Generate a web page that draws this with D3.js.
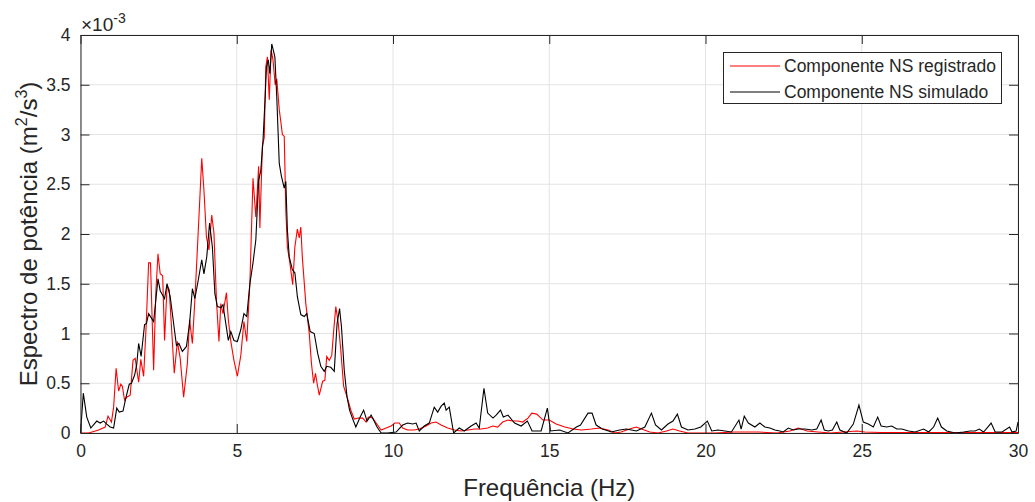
<!DOCTYPE html>
<html>
<head>
<meta charset="utf-8">
<script src="https://cdn.jsdelivr.net/npm/d3@7"></script>
<style>
  body { margin: 0; background: #fff; }
  text { font-family: "Liberation Sans", Arial, sans-serif; fill: #262626; }
</style>
</head>
<body>
<svg width="1035" height="502"></svg>
<script>
// power spectrum, values in units of 1e-3 m^2/s^3
var freqReg = [0,0.26,0.58,0.79,0.88,0.99,1.06,1.14,1.22,1.29,1.34,1.41,1.48,1.59,1.68,1.75,1.86,1.93,2.02,2.10,2.18,2.24,2.34,2.41,2.48,2.55,2.63,2.69,2.77,2.84,3.00,3.10,3.19,3.30,3.42,3.49,3.58,3.66,3.77,3.88,3.95,4.03,4.11,4.20,4.27,4.35,4.43,4.49,4.56,4.67,4.73,4.81,4.91,5.02,5.13,5.23,5.32,5.42,5.52,5.61,5.70,5.74,5.82,5.88,5.93,5.98,6.04,6.10,6.16,6.23,6.28,6.36,6.41,6.46,6.52,6.57,6.62,6.70,6.79,6.86,6.94,7.00,7.05,7.10,7.21,7.32,7.39,7.46,7.52,7.57,7.64,7.75,7.82,7.88,7.96,8.04,8.10,8.17,8.25,8.33,8.42,8.49,8.57,8.65,8.76,8.89,9.03,9.14,9.21,9.35,9.46,9.62,9.78,9.94,10.06,10.2,10.31,10.47,10.68,10.84,11.06,11.22,11.38,11.54,11.75,11.97,12.18,12.4,12.6,12.82,13.03,13.19,13.35,13.51,13.68,13.84,14.0,14.15,14.32,14.44,14.6,14.8,15.0,15.22,15.5,15.76,16.03,16.35,16.6,16.88,17.1,17.3,17.57,17.79,17.95,18.22,18.48,18.75,18.96,19.17,19.44,19.87,20.3,20.94,21.69,22.3,22.7,22.97,23.25,23.6,24.0,24.4,24.85,25.1,25.6,26.5,27.5,28.5,29.5,30];
var specReg = [0,0,0.03,0.06,0.17,0.11,0.26,0.65,0.42,0.49,0.47,0.33,0.36,0.38,0.73,0.75,0.51,0.74,0.57,1.07,1.71,1.71,0.63,1.41,1.80,1.60,1.58,0.93,1.48,1.44,0.60,0.92,0.75,0.36,0.70,1.14,0.90,1.34,2.04,2.76,2.44,1.97,1.84,2.19,2.01,1.34,0.92,1.30,1.20,1.41,1.14,0.92,0.73,0.57,0.78,1.12,0.92,1.50,2.56,2.17,2.68,2.06,2.88,2.97,3.68,3.78,3.35,3.85,3.75,3.50,3.56,3.25,3.13,3.00,2.98,2.24,1.87,1.71,1.49,1.87,2.05,1.96,2.07,1.76,1.30,1.00,0.70,0.50,0.60,0.50,0.38,0.52,0.53,0.77,0.73,0.78,1.02,1.27,1.10,0.83,0.47,0.40,0.32,0.23,0.14,0.15,0.15,0.11,0.16,0.15,0.10,0.03,0.05,0.07,0.10,0.10,0.05,0.03,0.03,0.04,0.07,0.10,0.11,0.08,0.05,0.03,0.02,0.03,0.04,0.04,0.05,0.07,0.06,0.11,0.13,0.12,0.12,0.11,0.15,0.20,0.19,0.13,0.13,0.09,0.06,0.04,0.03,0.04,0.05,0.03,0.0,0.01,0.04,0.06,0.04,0.01,0.0,0.02,0.04,0.02,0.0,0.0,0.0,0.01,0.01,0.0,0.02,0.05,0.02,0.01,0.0,0.01,0.02,0.01,0.005,0.005,0.005,0.005,0.005,0.005];

var freqSim = [0,0.09,0.2,0.33,0.52,0.63,0.74,0.84,0.95,1.06,1.16,1.24,1.36,1.45,1.56,1.63,1.73,1.80,1.86,1.94,2.05,2.11,2.18,2.24,2.34,2.48,2.55,2.69,2.77,2.87,2.98,3.07,3.15,3.26,3.39,3.49,3.58,3.66,3.77,3.88,3.95,4.04,4.13,4.22,4.30,4.38,4.49,4.56,4.65,4.73,4.81,4.91,5.02,5.13,5.23,5.32,5.42,5.52,5.61,5.70,5.77,5.84,5.91,5.95,6.01,6.06,6.12,6.22,6.28,6.36,6.43,6.52,6.57,6.62,6.68,6.78,6.86,6.94,7.05,7.16,7.24,7.35,7.48,7.59,7.69,7.80,7.88,8.01,8.12,8.21,8.29,8.35,8.44,8.53,8.61,8.70,8.81,8.95,9.06,9.17,9.30,9.49,9.62,9.83,10.1,10.31,10.47,10.63,10.74,10.84,11.0,11.16,11.32,11.43,11.54,11.64,11.7,11.8,11.94,12.12,12.28,12.5,12.66,12.76,12.91,13.03,13.2,13.3,13.44,13.53,13.68,13.89,14.1,14.3,14.45,14.74,14.94,15.04,15.33,15.6,15.87,16.0,16.24,16.37,16.5,16.7,16.99,17.25,17.47,17.63,17.79,18.06,18.27,18.4,18.59,18.8,18.96,19.1,19.23,19.44,19.66,19.85,20.06,20.2,20.4,20.62,20.83,21.07,21.14,21.24,21.37,21.58,21.74,21.9,22.06,22.22,22.38,22.49,22.65,22.81,22.97,23.18,23.4,23.56,23.7,23.8,23.93,24.06,24.2,24.3,24.52,24.73,24.91,25.05,25.21,25.37,25.51,25.62,25.8,25.96,26.12,26.28,26.5,26.71,26.98,27.14,27.3,27.43,27.55,27.72,27.99,28.26,28.47,28.63,28.76,28.9,29.14,29.27,29.49,29.73,29.81,29.94,30];
var specSim = [0,0.40,0.16,0.05,0.12,0.10,0.12,0.09,0.06,0.05,0.25,0.21,0.22,0.35,0.49,0.50,0.58,0.69,0.90,0.77,1.09,1.10,1.20,1.17,1.12,1.55,1.43,1.35,1.50,1.37,1.10,0.88,0.90,0.82,0.87,1.10,1.45,1.35,1.54,1.74,1.60,1.77,2.11,1.87,1.40,1.27,1.26,1.29,1.10,0.93,1.02,0.93,0.92,1.04,1.20,1.17,1.50,1.71,1.94,2.54,2.64,2.94,3.38,3.68,3.75,3.61,3.91,3.78,3.38,2.71,2.58,2.46,2.53,2.04,1.77,1.64,1.61,1.37,1.19,1.17,1.20,1.02,1.00,0.80,0.67,0.62,0.67,0.66,0.62,1.10,1.25,1.07,0.63,0.36,0.23,0.15,0.06,0.16,0.23,0.12,0.18,0.06,0.0,0.0,0.01,0.08,0.10,0.09,0.10,0.02,0.07,0.10,0.26,0.21,0.27,0.30,0.23,0.26,0.0,0.05,0.02,0.07,0.10,0.05,0.45,0.20,0.15,0.18,0.23,0.16,0.18,0.10,0.07,0.12,0.02,0.02,0.25,0.02,0.03,0.0,0.06,0.08,0.20,0.20,0.08,0.04,0.01,0.03,0.04,0.03,0.02,0.06,0.20,0.08,0.03,0.09,0.12,0.19,0.06,0.03,0.04,0.06,0.12,0.02,0.03,0.02,0.01,0.13,0.04,0.17,0.10,0.06,0.10,0.06,0.05,0.03,0.02,0.01,0.05,0.03,0.04,0.04,0.03,0.04,0.13,0.03,0.02,0.03,0.11,0.03,0.0,0.09,0.28,0.11,0.09,0.06,0.16,0.07,0.06,0.07,0.04,0.04,0.02,0.01,0.04,0.01,0.06,0.15,0.06,0.02,0.0,0.01,0.02,0.02,0.04,0.01,0.10,0.01,0.01,0.06,0.01,0.02,0.11];

var xTicks = [0, 5, 10, 15, 20, 25, 30];
var yTicks = [0, 0.5, 1, 1.5, 2, 2.5, 3, 3.5, 4];
var seriesNames = ["Componente NS registrado", "Componente NS simulado"];
var seriesColors = ["#ff0000", "#000000"];

var svg = d3.select("svg");
var pLeft = 80.5, pRight = 1018, pTop = 35, pBottom = 433;

var x = d3.scaleLinear().domain([0, 30]).range([pLeft, pRight]);
var y = d3.scaleLinear().domain([0, 4]).range([pBottom, pTop]);

// grid
svg.append("g").selectAll("line").data(xTicks).enter().append("line")
    .attr("x1", d => x(d)).attr("x2", d => x(d))
    .attr("y1", pTop).attr("y2", pBottom)
    .attr("stroke", "#e3e3e3").attr("stroke-width", 1);
svg.append("g").selectAll("line").data(yTicks).enter().append("line")
    .attr("x1", pLeft).attr("x2", pRight)
    .attr("y1", d => y(d)).attr("y2", d => y(d))
    .attr("stroke", "#e3e3e3").attr("stroke-width", 1);

// data lines
var line = d3.line().x(d => x(d[0])).y(d => y(d[1]));
var regData = freqReg.map((f, i) => [f, specReg[i]]);
var simData = freqSim.map((f, i) => [f, specSim[i]]);

svg.append("path").datum(regData)
    .attr("fill", "none").attr("stroke", seriesColors[0]).attr("stroke-width", 1.1)
    .attr("d", line);
svg.append("path").datum(simData)
    .attr("fill", "none").attr("stroke", seriesColors[1]).attr("stroke-width", 1.1)
    .attr("d", line);

// axes (ticks inside, box on)
var tickLen = 9;
var xb = svg.append("g").attr("transform", "translate(0," + pBottom + ")")
    .call(d3.axisBottom(x).tickValues(xTicks).tickSizeInner(-tickLen).tickSizeOuter(0).tickPadding(12));
var xt = svg.append("g").attr("transform", "translate(0," + pTop + ")")
    .call(d3.axisTop(x).tickValues(xTicks).tickSizeInner(-tickLen).tickSizeOuter(0).tickFormat(""));
var yl = svg.append("g").attr("transform", "translate(" + pLeft + ",0)")
    .call(d3.axisLeft(y).tickValues(yTicks).tickSizeInner(-tickLen).tickSizeOuter(0).tickPadding(10).tickFormat(d3.format("")));
var yr = svg.append("g").attr("transform", "translate(" + pRight + ",0)")
    .call(d3.axisRight(y).tickValues(yTicks).tickSizeInner(-tickLen).tickSizeOuter(0).tickFormat(""));

[xb, xt, yl, yr].forEach(function(g) {
  g.selectAll("path").attr("stroke", "#262626");
  g.selectAll("line").attr("stroke", "#262626");
  g.selectAll("text").attr("font-size", 17.5).attr("fill", "#262626")
    .style("font-family", "'Liberation Sans', Arial, sans-serif");
});

// exponent label
var ex = svg.append("text").attr("x", 81).attr("y", 30.5).attr("font-size", 19);
ex.append("tspan").text("\u00d710");
ex.append("tspan").attr("dy", -8).attr("font-size", 14).text("-3");

// axis titles
svg.append("text").attr("x", (pLeft + pRight) / 2).attr("y", 496)
    .attr("text-anchor", "middle").attr("font-size", 24)
    .text("Frequência (Hz)");

var yt = svg.append("text")
    .attr("transform", "translate(37," + ((pTop + pBottom) / 2) + ") rotate(-90)")
    .attr("text-anchor", "middle").attr("font-size", 24);
yt.append("tspan").text("Espectro de potência (m");
yt.append("tspan").attr("dy", -10).attr("font-size", 16).text("2");
yt.append("tspan").attr("dy", 10).text("/s");
yt.append("tspan").attr("dy", -10).attr("font-size", 16).text("3");
yt.append("tspan").attr("dy", 10).text(")");

// legend
var lg = svg.append("g");
lg.append("rect").attr("x", 723.5).attr("y", 52.5).attr("width", 278).attr("height", 51)
    .attr("fill", "#fff").attr("stroke", "#262626").attr("stroke-width", 1);
seriesNames.forEach(function(name, i) {
  var yy = 66 + i * 26;
  lg.append("line").attr("x1", 730).attr("x2", 780).attr("y1", yy).attr("y2", yy)
      .attr("stroke", seriesColors[i]).attr("stroke-width", 1.1);
  lg.append("text").attr("x", 784).attr("y", yy + 6).attr("font-size", 17.5).text(name);
});
</script>
</body>
</html>
